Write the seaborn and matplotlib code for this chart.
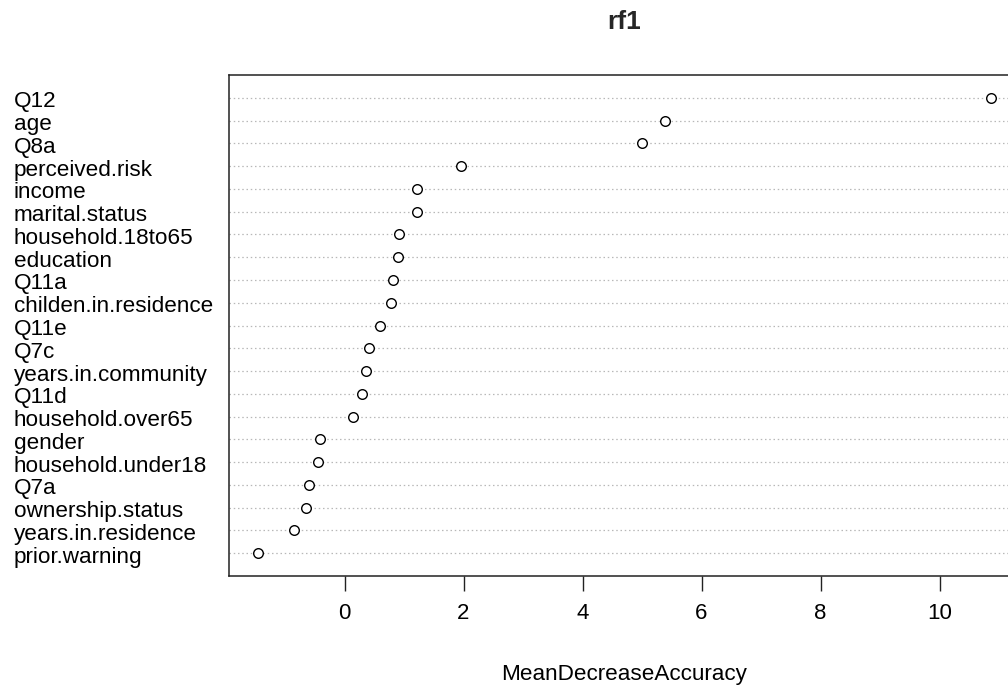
import matplotlib
matplotlib.use("Agg")
import matplotlib.pyplot as plt
import matplotlib.transforms as mtransforms
import seaborn as sns
import pandas as pd

# Variable importance from random forest model rf1 (sorted, most important first)
variables = [
    "Q12", "age", "Q8a", "perceived.risk", "income", "marital.status",
    "household.18to65", "education", "Q11a", "childen.in.residence", "Q11e",
    "Q7c", "years.in.community", "Q11d", "household.over65", "gender",
    "household.under18", "Q7a", "ownership.status", "years.in.residence",
    "prior.warning",
]
mean_decrease_accuracy = [
    10.86, 5.38, 5.00, 1.95, 1.22, 1.22,
    0.92, 0.90, 0.82, 0.78, 0.60,
    0.41, 0.36, 0.30, 0.15, -0.41,
    -0.44, -0.60, -0.65, -0.85,
    -1.45,
]
x_ticks = [0, 2, 4, 6, 8, 10]

df = pd.DataFrame({"variable": variables, "MeanDecreaseAccuracy": mean_decrease_accuracy})

sns.set_theme(style="white")
plt.rcParams["font.family"] = ["Liberation Sans", "DejaVu Sans"]

fig = plt.figure(figsize=(10.08, 6.87), dpi=100)
ax = fig.add_axes([229 / 1008, 1 - 576 / 687, (1020 - 229) / 1008, (576 - 75) / 687])

sns.scatterplot(
    data=df, x="MeanDecreaseAccuracy", y="variable", ax=ax,
    marker="o", s=48, color="white", edgecolor="black", linewidth=1.0, zorder=3,
)

vmin, vmax = min(mean_decrease_accuracy), max(mean_decrease_accuracy)
span = vmax - vmin
ax.set_xlim(vmin - 0.04 * span, vmax + 0.04 * span)
ax.set_ylim(len(variables), -1)

ax.set_yticks(range(len(variables)))
ax.set_yticklabels(variables, ha="left", fontsize=16.2, color="black")
ax.tick_params(axis="y", length=0, pad=155)
ax.set_ylabel("")
# nudge the row labels slightly downward
shift = mtransforms.ScaledTranslation(0, -1.5 / 100, fig.dpi_scale_trans)
for lbl in ax.get_yticklabels():
    lbl.set_transform(lbl.get_transform() + shift)

ax.set_xticks(x_ticks)
ax.set_xticklabels([str(t) for t in x_ticks], fontsize=16, color="black")
ax.tick_params(axis="x", bottom=True, length=11, width=1.0, color="#222222", pad=8.5, direction="out")
ax.set_xlabel("MeanDecreaseAccuracy", fontsize=16.2, color="black", labelpad=28.5)

ax.grid(axis="y", linestyle=(0, (1.2, 2.2)), color="#b8b8b8", linewidth=0.9, zorder=0)
ax.grid(axis="x", visible=False)
ax.set_axisbelow(True)

for spine in ax.spines.values():
    spine.set_visible(True)
    spine.set_color("#222222")
    spine.set_linewidth(1.1)

ax.set_title("rf1", fontsize=19, fontweight="bold", pad=33)

fig.savefig("out.png", dpi=100, facecolor="white")
